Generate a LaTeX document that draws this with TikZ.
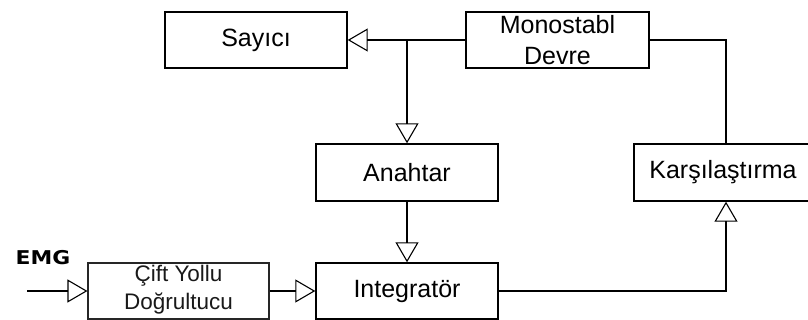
\documentclass[tikz,border=0pt]{standalone}
\usepackage{fontspec}
\setmainfont{Liberation Sans}
\newfontfamily\labelfont{DejaVu Sans}
\usetikzlibrary{arrows.meta}
\tikzset{
  block/.style={draw=black, line width=1.4pt, fill=white, inner sep=0pt,
    font=\fontsize{25}{31}\selectfont, align=center},
  softblock/.style={draw=black!85, line width=1.1pt, fill=white, inner sep=0pt,
    text=black!90, font=\fontsize{22.5}{28}\selectfont, align=center},
  wire/.style={line width=1.3pt, draw=black},
  tip/.style={-{Triangle[open, length=20pt, width=23pt, line width=1.1pt]}},
}
\begin{document}
\begin{tikzpicture}[x=1pt, y=-1pt]
  \useasboundingbox (0,0) rectangle (808,320);

  % blocks (corner to corner)
  \node[block, minimum width=182pt, minimum height=56pt] (say) at (256,40) {Sayıcı};
  \node[block, minimum width=183pt, minimum height=56pt] (mono) at (557.5,40) {Monostabl\\Devre};
  \node[block, minimum width=182pt, minimum height=57pt] (anah) at (407,172.5) {Anahtar};
  \node[block, minimum width=178pt, minimum height=57pt] (kars) at (723,172.5) {Karşılaştırma};
  \node[block, minimum width=182pt, minimum height=56pt] (integ) at (407,291) {Integratör};
  \node[softblock, minimum width=181pt, minimum height=56pt] (cift) at (178.5,291) {};
  \node[softblock, draw=none, fill=none, anchor=center] (ciftlabel) at (178.5,290) {Çift Yollu\\Doğrultucu};

  % input label and free wire end
  \node[font=\labelfont\bfseries\fontsize{19}{19}\selectfont, inner sep=0pt] (emg) at (43,257.5)
    {\scalebox{1.15}[1]{EMG}};
  \coordinate (in) at (27,291);

  % helper points for the routed wires
  \coordinate (split) at (407,40);
  \coordinate (ne) at (726,40);
  \coordinate (se) at (726,291);

  % connectors
  \draw[wire, tip] (mono.west) -- (say.east);
  \draw[wire, tip] (split) -- (anah.north);
  \draw[wire, tip] (anah.south) -- (integ.north);
  \draw[wire] (mono.east) -- (ne) -- (ne |- kars.north);
  \draw[wire, tip] (integ.east) -- (se) -- (se |- kars.south);
  \draw[wire, tip] (in) -- (cift.west);
  \draw[wire, tip] (cift.east) -- (integ.west);
\end{tikzpicture}
\end{document}
